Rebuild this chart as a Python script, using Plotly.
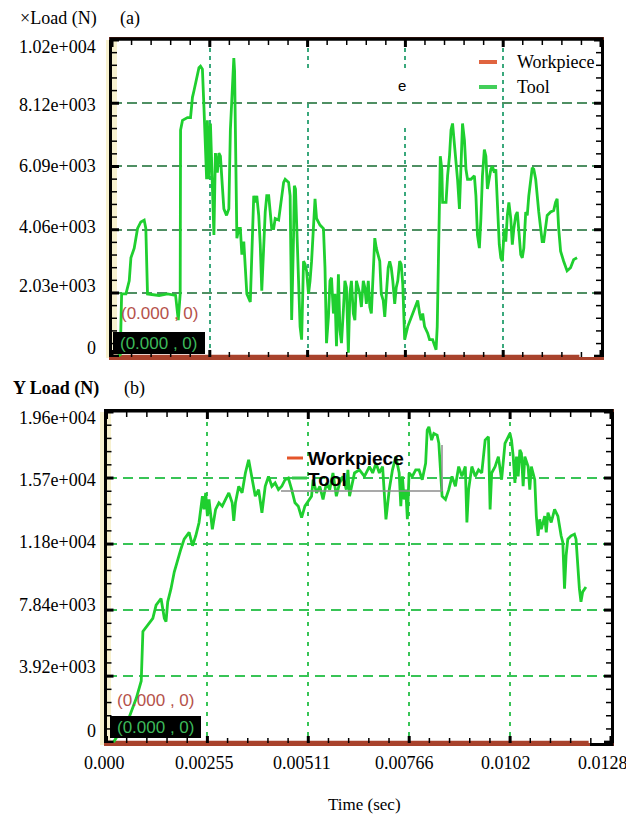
import plotly.graph_objects as go

# ---------------- data ----------------
time_tickvals = [0.0, 0.002553, 0.005106, 0.007659, 0.010212, 0.012765]
time_ticktext = ["0.000", "0.00255", "0.00511", "0.00766", "0.0102", "0.0128"]

xload_tickvals = [0, 2030, 4060, 6090, 8120, 10150]
xload_ticktext = ["0", "2.03e+003", "4.06e+003", "6.09e+003", "8.12e+003", "1.02e+004"]

yload_tickvals = [0, 3920, 7840, 11760, 15680, 19600]
yload_ticktext = ["0", "3.92e+003", "7.84e+003", "1.18e+004", "1.57e+004", "1.96e+004"]

series_names = ["Workpiece", "Tool"]

# (a) X load - Tool
xload_time = [
    0.000147, 0.000216, 0.000251, 0.000364, 0.00045, 0.000494, 0.00058, 0.000667, 0.000753, 0.00084,
    0.000883, 0.000927, 0.00123, 0.00145, 0.00166, 0.00173, 0.00178, 0.00179, 0.00184, 0.00197,
    0.00205, 0.0021, 0.00214, 0.00223, 0.00227, 0.00231, 0.00236, 0.0024, 0.00244, 0.00247,
    0.00249, 0.00253, 0.00257, 0.00262, 0.00266, 0.0027, 0.00275, 0.00279, 0.00283, 0.00288,
    0.00292, 0.00299, 0.00305, 0.00309, 0.00313, 0.00318, 0.0032, 0.00322, 0.00326, 0.00331,
    0.00335, 0.00339, 0.00344, 0.00348, 0.00352, 0.00361, 0.00365, 0.0037, 0.00374, 0.00378,
    0.00383, 0.00387, 0.00391, 0.00396, 0.004, 0.00404, 0.00409, 0.00413, 0.00417, 0.00422,
    0.00426, 0.00435, 0.00443, 0.00448, 0.00452, 0.00461, 0.00465, 0.00469, 0.00474, 0.00476,
    0.00479, 0.00482, 0.00487, 0.00491, 0.00495, 0.005, 0.00504, 0.00508, 0.00513, 0.00517,
    0.00521, 0.00526, 0.0053, 0.00534, 0.00543, 0.00552, 0.00556, 0.0056, 0.00565, 0.00569,
    0.00573, 0.00578, 0.00582, 0.00586, 0.00591, 0.00595, 0.00599, 0.00604, 0.00608, 0.00612,
    0.00617, 0.00621, 0.00625, 0.0063, 0.00634, 0.00638, 0.00643, 0.00647, 0.00651, 0.00656,
    0.0066, 0.00664, 0.00669, 0.00673, 0.00677, 0.00682, 0.00686, 0.0069, 0.00699, 0.00703,
    0.00708, 0.00712, 0.00716, 0.00721, 0.00725, 0.00729, 0.00733, 0.00738, 0.00742, 0.00746,
    0.00751, 0.00755, 0.00759, 0.00764, 0.00772, 0.00785, 0.00798, 0.00803, 0.00807, 0.00811,
    0.00816, 0.00824, 0.00829, 0.00837, 0.00842, 0.00846, 0.00849, 0.00852, 0.00855, 0.00857,
    0.00861, 0.00863, 0.00872, 0.00876, 0.00881, 0.00885, 0.00889, 0.00894, 0.00898, 0.00902,
    0.00907, 0.00911, 0.00915, 0.0092, 0.00924, 0.00928, 0.00937, 0.00946, 0.0095, 0.00954,
    0.00959, 0.00963, 0.00967, 0.00972, 0.00976, 0.0098, 0.00985, 0.00989, 0.00993, 0.00998,
    0.01002, 0.01006, 0.01011, 0.01015, 0.01019, 0.01024, 0.01028, 0.01032, 0.01036, 0.01041,
    0.01045, 0.01049, 0.01054, 0.01058, 0.01062, 0.01067, 0.01071, 0.01075, 0.0108, 0.01084,
    0.01088, 0.01093, 0.01097, 0.01101, 0.01106, 0.01114, 0.01123, 0.01127, 0.01132, 0.01136,
    0.01145, 0.01153, 0.01158, 0.01162, 0.01166, 0.01171, 0.01179, 0.01188, 0.01197, 0.01205,
    0.01214,
]
xload_tool = [
    0, 50, 2000, 2000, 2420, 3160, 3470, 4100, 4310, 4370,
    4100, 2000, 1950, 2000, 1950, 1160, 2000, 7260, 7570, 7660,
    7660, 8310, 8520, 9050, 9260, 9310, 9210, 8000, 6420, 5680,
    7570, 5680, 7470, 5150, 3890, 6520, 5890, 6520, 6420, 5470,
    4730, 4520, 4730, 7260, 8310, 9570, 9150, 7260, 3790, 4100,
    4100, 3260, 3680, 2840, 2000, 1740, 3050, 5150, 4940, 5150,
    4520, 3580, 2100, 3580, 4630, 5150, 5150, 4630, 4100, 4100,
    4420, 4370, 5150, 5580, 5680, 5580, 5150, 1160, 3890, 5470,
    5370, 4100, 2000, 950, 530, 3050, 2950, 2740, 2000, 2420,
    3050, 4310, 5050, 4420, 4210, 4100, 2840, 420, 1260, 2420,
    2520, 1370, 2000, 320, 2630, 840, 420, 1470, 2420, 2210,
    110, 2000, 2420, 1370, 1160, 2420, 2210, 2000, 1580, 2420,
    2210, 1680, 2420, 1580, 1370, 2840, 3790, 3470, 3050, 2000,
    1790, 1260, 2000, 2840, 3050, 2840, 2420, 1680, 2210, 2420,
    3050, 2950, 2310, 530, 950, 1370, 1790, 1370, 1160, 1370,
    950, 740, 530, 530, 320, 210, 950, 3470, 5260, 6420,
    6000, 4940, 4940, 5790, 6420, 7260, 7470, 6840, 6210, 5680,
    4730, 6210, 7470, 6940, 6000, 5680, 5680, 5790, 5150, 3890,
    3470, 4420, 5790, 6630, 6420, 5370, 5790, 6000, 6100, 5890,
    6000, 4840, 3580, 3160, 3050, 4100, 3680, 4520, 4940, 4420,
    3580, 4100, 4520, 4630, 4000, 3260, 3160, 3470, 4630, 4520,
    5150, 5680, 6050, 6000, 5680, 4630, 3680, 3680, 4100, 4520,
    4630, 4680, 4940, 5050, 4100, 3370, 3050, 2740, 2840, 3100,
    3160,
]

# (b) Y load - Tool
yload_time = [
    0.000176, 0.000577, 0.000753, 0.000879, 0.000921, 0.001047, 0.001172, 0.001255, 0.00138, 0.001463,
    0.001506, 0.001549, 0.001632, 0.001714, 0.0018, 0.001883, 0.001965, 0.002091, 0.002176, 0.002259,
    0.002342, 0.002427, 0.002467, 0.00251, 0.002553, 0.002593, 0.002678, 0.002761, 0.002844, 0.002929,
    0.003012, 0.003095, 0.00318, 0.00322, 0.003263, 0.003346, 0.003431, 0.003514, 0.003597, 0.003682,
    0.003765, 0.003848, 0.003933, 0.004016, 0.004099, 0.004184, 0.004267, 0.00435, 0.004435, 0.004518,
    0.004601, 0.004686, 0.004769, 0.004852, 0.004937, 0.00502, 0.005103, 0.005188, 0.005228, 0.005314,
    0.005397, 0.005479, 0.005565, 0.005648, 0.00573, 0.005816, 0.005899, 0.005981, 0.006067, 0.006108,
    0.00615, 0.006275, 0.0064, 0.006526, 0.006652, 0.006735, 0.00682, 0.006903, 0.006986, 0.007071,
    0.007154, 0.007236, 0.007322, 0.007405, 0.007447, 0.007487, 0.00753, 0.007573, 0.007613, 0.007656,
    0.007738, 0.007824, 0.007907, 0.007989, 0.008075, 0.008115, 0.008158, 0.008226, 0.008283, 0.008366,
    0.008409, 0.008451, 0.008491, 0.008577, 0.00866, 0.008742, 0.008828, 0.008911, 0.008993, 0.009079,
    0.009119, 0.009162, 0.009244, 0.00933, 0.009413, 0.009495, 0.009581, 0.009664, 0.009706, 0.009746,
    0.009832, 0.009915, 0.009997, 0.010083, 0.010166, 0.010208, 0.010248, 0.010291, 0.010334, 0.010374,
    0.010417, 0.010459, 0.010499, 0.010542, 0.010585, 0.010668, 0.01071, 0.01075, 0.010836, 0.010876,
    0.010919, 0.010961, 0.011001, 0.011087, 0.011127, 0.01117, 0.011252, 0.011338, 0.011421, 0.011463,
    0.011503, 0.011546, 0.011589, 0.011629, 0.011672, 0.011754, 0.01184, 0.01188, 0.011923, 0.011965,
    0.012005, 0.012048, 0.012131,
]
yload_tool = [
    0, 1500, 2600, 3630, 6570, 6960, 7350, 8130, 8530, 7350,
    7160, 8330, 9110, 10100, 10880, 11470, 12050, 12450, 11660, 12250,
    13040, 14600, 13820, 14800, 13420, 14410, 12640, 13820, 14210, 14010,
    14410, 14800, 14210, 13130, 14210, 15190, 14800, 15980, 16760, 15580,
    14600, 14990, 13620, 15190, 15780, 15190, 15390, 14990, 15190, 15580,
    15680, 14990, 14210, 14010, 13330, 14010, 14310, 14600, 15580, 14800,
    15190, 14410, 15390, 14990, 15980, 14600, 15390, 15780, 14990, 16170,
    14600, 15980, 16170, 15780, 16360, 15980, 16560, 15980, 16360, 13230,
    14990, 16170, 16950, 15980, 14010, 15780, 14410, 14990, 13230, 15980,
    15780, 16170, 16170, 15580, 16560, 18520, 18720, 17930, 18330, 18230,
    17740, 15980, 14600, 14410, 14990, 15780, 15190, 16360, 15780, 16360,
    13040, 14990, 16360, 15780, 16170, 15980, 17930, 18130, 13820, 15980,
    16360, 16950, 15580, 17740, 18130, 18330, 17930, 16950, 15390, 16950,
    15780, 17350, 17150, 15190, 16950, 16360, 14990, 16360, 15580, 13420,
    12250, 13230, 12640, 13420, 12450, 13620, 13040, 13820, 13420, 12640,
    12250, 11860, 9110, 11070, 12050, 12250, 12350, 12050, 10290, 9110,
    8330, 8920, 9210,
]

workpiece_time = [0.0, 0.0122]
workpiece_load = [0, 0]

# ---------------- styling helpers ----------------
# The page body keeps the browser's default 8px margin, so the figure is 8px
# smaller than the window and every position is given in window pixels minus 8.
OFF = 8
W, H = 634 - OFF, 818 - OFF
def fx(p):
    return (p - OFF) / W
def fy(p):
    return 1 - (p - OFF) / H

SERIF = "Liberation Serif, Times New Roman, serif"
SANS = "Liberation Sans, Arial, sans-serif"
TOOL_GREEN = "#1fcf2f"
WP_BROWN = "#a8422c"

fig = go.Figure()
fig.add_trace(go.Scatter(x=workpiece_time, y=workpiece_load, mode="lines", name=series_names[0],
                         line=dict(color=WP_BROWN, width=3), xaxis="x", yaxis="y"))
fig.add_trace(go.Scatter(x=xload_time, y=xload_tool, mode="lines", name=series_names[1],
                         line=dict(color=TOOL_GREEN, width=2.8), xaxis="x", yaxis="y"))
fig.add_trace(go.Scatter(x=workpiece_time, y=workpiece_load, mode="lines", name=series_names[0],
                         line=dict(color=WP_BROWN, width=3), xaxis="x2", yaxis="y2"))
fig.add_trace(go.Scatter(x=yload_time, y=yload_tool, mode="lines", name=series_names[1],
                         line=dict(color=TOOL_GREEN, width=2.8), xaxis="x2", yaxis="y2"))

def xaxis_cfg(domain, anchor, gridcolor, griddash):
    step = time_tickvals[1] - time_tickvals[0]
    return dict(domain=domain, anchor=anchor, range=[time_tickvals[0], time_tickvals[-1]],
                tickmode="linear", tick0=time_tickvals[0], dtick=step, showticklabels=False,
                ticks="", showline=True, linecolor=WP_BROWN, linewidth=3, mirror=True,
                showgrid=True, gridcolor=gridcolor, gridwidth=1.5, griddash=griddash,
                zeroline=False, fixedrange=True)

def yaxis_cfg(domain, anchor, rng, vals, gridcolor, griddash):
    step = vals[1] - vals[0]
    return dict(domain=domain, anchor=anchor, range=rng,
                tickmode="linear", tick0=vals[0], dtick=step, showticklabels=False,
                ticks="", showline=True, linecolor="black", linewidth=2.5, mirror=True,
                showgrid=True, gridcolor=gridcolor, gridwidth=1.5, griddash=griddash,
                zeroline=False, fixedrange=True)

fig.update_layout(
    width=W, height=H, autosize=False,
    margin=dict(l=0, r=0, t=0, b=0),
    paper_bgcolor="white", plot_bgcolor="rgba(0,0,0,0)",
    showlegend=False,
    xaxis=xaxis_cfg([fx(112), fx(601)], "y", "#3aa87c", "4px,4px"),
    yaxis=yaxis_cfg([fy(357), fy(40)], "x", [-25, xload_tickvals[-1]], xload_tickvals, "#4f8f63", "10px,5px"),
    xaxis2=xaxis_cfg([fx(106.5), fx(611)], "y2", "#38c456", "4px,6px"),
    yaxis2=yaxis_cfg([fy(743), fy(412)], "x2", [-50, yload_tickvals[-1]], yload_tickvals, "#38c456", "10px,6px"),
)

shapes = []
def hline(x0, x1, y, color, width, layer="above"):
    return dict(type="line", xref="paper", yref="paper", x0=fx(x0), x1=fx(x1), y0=fy(y), y1=fy(y),
                line=dict(color=color, width=width), layer=layer)
def vline(x, y0, y1, color, width, layer="above"):
    return dict(type="line", xref="paper", yref="paper", x0=fx(x), x1=fx(x), y0=fy(y0), y1=fy(y1),
                line=dict(color=color, width=width), layer=layer)
def rect(x0, y0, x1, y1, fill, layer="above"):
    return dict(type="rect", xref="paper", yref="paper", x0=fx(x0), x1=fx(x1), y0=fy(y1), y1=fy(y0),
                fillcolor=fill, line=dict(width=0), layer=layer)

# cream strips along the left edges
shapes.append(rect(106, 40, 117, 358, "#f7f1cf", "below"))
shapes.append(rect(100, 412, 111, 745, "#f7f1cf", "below"))
# black top frame edges (over the mirrored axis line)
shapes.append(hline(109.5, 603.5, 39.0, "black", 3.5))
shapes.append(hline(104.0, 613.5, 410.8, "black", 3.5))
# bottom-right black end of the frame in (b)
shapes.append(hline(590, 613.5, 744.5, "black", 3))

# inward tick marks on all four sides, placed with the axes' own scales
MAJ_LEN, MAJ_W, MIN_LEN, MIN_W = 7, 3, 5, 1.5
def tick_positions(vals):
    step = vals[1] - vals[0]
    major = list(vals)
    minor = [vals[i] + k * step / 5 for i in range(len(vals) - 1) for k in range(1, 5)]
    return major, minor

def add_ticks(xa, ya, xvals, yvals):
    xmaj, xmin = tick_positions(xvals)
    ymaj, ymin = tick_positions(yvals)
    for group, ln, w in ((xmaj, MAJ_LEN, MAJ_W), (xmin, MIN_LEN, MIN_W)):
        for v in group:
            for anchor, sgn in ((0, 1), (1, -1)):
                shapes.append(dict(type="line", xref=xa, yref=ya + " domain", ysizemode="pixel",
                                   yanchor=anchor, x0=v, x1=v, y0=0, y1=sgn * ln,
                                   line=dict(color="black", width=w), layer="above"))
    for group, ln, w in ((ymaj, MAJ_LEN, MAJ_W), (ymin, MIN_LEN, MIN_W)):
        for v in group:
            for anchor, sgn in ((0, 1), (1, -1)):
                shapes.append(dict(type="line", xref=xa + " domain", yref=ya, xsizemode="pixel",
                                   xanchor=anchor, y0=v, y1=v, x0=0, x1=sgn * ln,
                                   line=dict(color="black", width=w), layer="above"))

add_ticks("x", "y", time_tickvals, xload_tickvals)
add_ticks("x2", "y2", time_tickvals, yload_tickvals)

# white erased patches in (a)
shapes.append(rect(281, 72, 457, 100, "white"))
shapes.append(rect(309, 104, 412, 125, "white"))
# legend (a)
shapes.append(hline(479, 497, 62, "#e0643f", 4))
shapes.append(hline(479, 497, 87, "#43cf5a", 4))
# legend (b)
shapes.append(hline(287, 303, 458, "#e4552a", 3))
shapes.append(hline(292, 307, 478, "#35c84a", 3))
shapes.append(hline(281, 442, 491, "#8c8c8c", 1.5))
shapes.append(vline(442, 445, 491, "#8c8c8c", 1.5))
# black readout boxes
shapes.append(rect(113, 332, 205, 354, "black"))
shapes.append(rect(110, 716, 201, 738, "black"))
fig.update_layout(shapes=shapes)

ann = []
def text(x, y, s, size=18, family=SERIF, color="black", xanchor="left", **kw):
    d = dict(xref="paper", yref="paper", x=fx(x), y=fy(y), text=s, showarrow=False,
             xanchor=xanchor, yanchor="middle", font=dict(family=family, size=size, color=color))
    d.update(kw)
    return d

# y tick labels (a)
top_shift = [8.0, 7.4, 3.0, 0.3, -1.5, -6.5]
for v, t, s in zip(xload_tickvals, xload_ticktext, top_shift):
    ann.append(dict(xref="paper", yref="y", x=fx(98), y=v, yshift=s, text=t, showarrow=False,
                    xanchor="right", yanchor="middle", font=dict(family=SERIF, size=18, color="black")))
# y tick labels (b)
bot_shift = [11.5, 9.2, 4.9, 1.6, -1.7, -6.0]
for v, t, s in zip(yload_tickvals, yload_ticktext, bot_shift):
    ann.append(dict(xref="paper", yref="y2", x=fx(98), y=v, yshift=s, text=t, showarrow=False,
                    xanchor="right", yanchor="middle", font=dict(family=SERIF, size=18, color="black")))
# x tick labels (b)
x_shift = [-2.5, -2.9, -6.6, -4.7, -3.7, -8.3]
for v, t, s in zip(time_tickvals, time_ticktext, x_shift):
    ann.append(dict(xref="x2", yref="paper", x=v, y=fy(763), xshift=s, text=t, showarrow=False,
                    xanchor="center", yanchor="middle", font=dict(family=SERIF, size=18, color="black")))

# titles
ann.append(text(18, 18.5, "×Load (N)"))
ann.append(text(118, 18.5, "(a)"))
ann.append(text(11, 388, "<b>Y Load (N)</b>"))
ann.append(text(122, 388, "(b)"))
ann.append(text(364.5, 804, "Time (sec)", size=17, xanchor="center"))

# legend texts
ann.append(text(515, 62, series_names[0]))
ann.append(text(515, 87, series_names[1]))
ann.append(text(306, 458, "<b>" + series_names[0] + "</b>", size=19, family=SANS))
ann.append(text(306, 479, "<b>" + series_names[1] + "</b>", size=19, family=SANS))
ann.append(text(402, 85, "e", size=15, family=SANS, xanchor="center"))

# readouts
ann.append(text(160, 313, "(0.000 , 0)", size=17, family=SANS, color="#b5524a", xanchor="center"))
ann.append(text(159, 343, "(0.000 , 0)", size=17, family=SANS, color="#3cb85a", xanchor="center"))
ann.append(text(156, 700, "(0.000 , 0)", size=17, family=SANS, color="#b5524a", xanchor="center"))
ann.append(text(155.5, 727, "(0.000 , 0)", size=17, family=SANS, color="#3cb85a", xanchor="center"))

fig.update_layout(annotations=ann)
fig.write_html("out.html")
